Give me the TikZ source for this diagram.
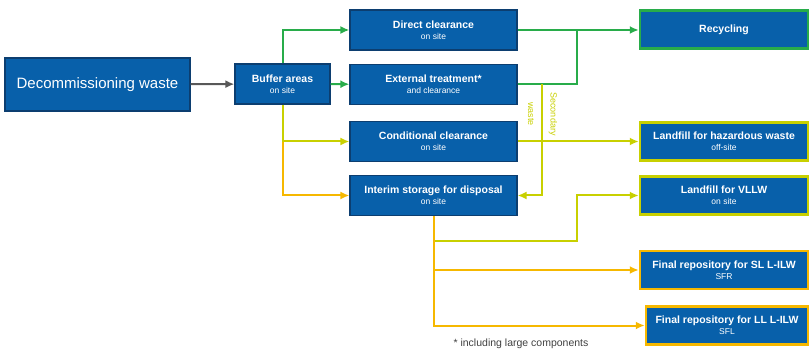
\documentclass[tikz,border=0pt]{standalone}
\usepackage{fontspec}
\setmainfont{Liberation Sans}
\usetikzlibrary{arrows,calc}
\usetikzlibrary{arrows.meta}
\definecolor{boxblue}{RGB}{8,96,170}
\definecolor{boxedge}{RGB}{12,62,112}
\definecolor{flowgreen}{RGB}{40,172,74}
\definecolor{flowlime}{RGB}{200,208,0}
\definecolor{floworange}{RGB}{246,184,0}
\definecolor{flowgray}{RGB}{88,88,88}
\tikzset{
	wastebox/.style={
			fill=boxblue, draw=boxedge, line width=1.2pt, text=white,
			minimum width=167pt, minimum height=40pt, align=center, inner sep=2pt
		},
	flow/.style={line width=2pt,-{Latex[length=9pt,width=8pt]}},
	sidelabel/.style={rotate=-90, text=flowlime, font=\fontsize{9}{11}\selectfont}
}
\newcommand{\boxlabel}[2]{{\fontsize{10.5}{12}\selectfont\bfseries #1}\\[-1pt]{\fontsize{8.5}{10}\selectfont #2}}

\begin{document}
\begin{tikzpicture}[x=1pt,y=-1pt]
		\useasboundingbox (0,0) rectangle (809,350);
		% sources
		\node[wastebox, minimum width=185pt, minimum height=53pt, font=\fontsize{15}{18}\selectfont] (decom) at (97.5,84.5) {Decommissioning waste};
		\node[wastebox, minimum width=95pt] (buffer) at (282.5,84) {\boxlabel{Buffer areas}{on site}};
		% on-site treatment
		\node[wastebox] (direct) at (433.5,30) {\boxlabel{Direct clearance}{on site}};
		\node[wastebox] (external) at (433.5,84.5) {\boxlabel{External treatment*}{and clearance}};
		\node[wastebox] (cond) at (433.5,141.5) {\boxlabel{Conditional clearance}{on site}};
		\node[wastebox] (interim) at (433.5,195.5) {\boxlabel{Interim storage for disposal}{on site}};
		% destinations
		\node[wastebox, draw=flowgreen, line width=2.5pt, minimum width=168pt, minimum height=38pt, font=\fontsize{10.5}{12}\selectfont\bfseries] (recyc) at (724,29.5) {Recycling};
		\node[wastebox, draw=flowlime, line width=2.5pt, minimum width=168pt, minimum height=38pt] (hazard) at (724,141.5) {\boxlabel{Landfill for hazardous waste}{off-site}};
		\node[wastebox, draw=flowlime, line width=2.5pt, minimum width=168pt, minimum height=38pt] (vllw) at (724,195.5) {\boxlabel{Landfill for VLLW}{on site}};
		\node[wastebox, draw=floworange, line width=2.5pt, minimum width=168pt, minimum height=38pt] (sfr) at (724,270) {\boxlabel{Final repository for SL L-ILW}{SFR}};
		\node[wastebox, draw=floworange, line width=2.5pt, minimum width=162pt, minimum height=38pt] (sfl) at (727,325.5) {\boxlabel{Final repository for LL L-ILW}{SFL}};
		% junctions
		\coordinate (merge) at (577,30);
		\coordinate (sec) at (542,84.5);
		\coordinate (bend) at (577,241);
		% connectors
		\draw [flow,color=flowgray] (decom) -- (buffer);
		\draw [flow,color=flowgreen] (buffer.north) |- (direct.west);
		\draw [flow,color=flowgreen] (buffer) -- (external);
		\draw [flow,color=floworange] (buffer.south |- cond.west) |- (interim.west);
		\draw [flow,color=flowlime] (buffer.south) |- (cond.west);
		\draw [flow,color=flowgreen] (direct.east) -- (direct.east -| recyc.west);
		\draw [line width=2pt,color=flowgreen] (external.east) -| (merge);
		\draw [flow,color=flowlime] (sec) |- (interim.east);
		\node[sidelabel] (wastelabel) at (531,114) {waste};
		\node[sidelabel] (seclabel) at (553,114) {Secondary};
		\draw [flow,color=flowlime] (cond) -- (hazard);
		\draw [flow,color=flowlime] (interim.south |- bend) -- (bend) |- (vllw.west);
		\draw [flow,color=floworange] (interim.south) |- (sfr.west);
		\draw [flow,color=floworange] (interim.south) |- (sfl.west);
		\node[text=black!75, font=\fontsize{10.5}{12}\selectfont] (note) at (521,344) {* including large components};
	\end{tikzpicture}
\end{document}
